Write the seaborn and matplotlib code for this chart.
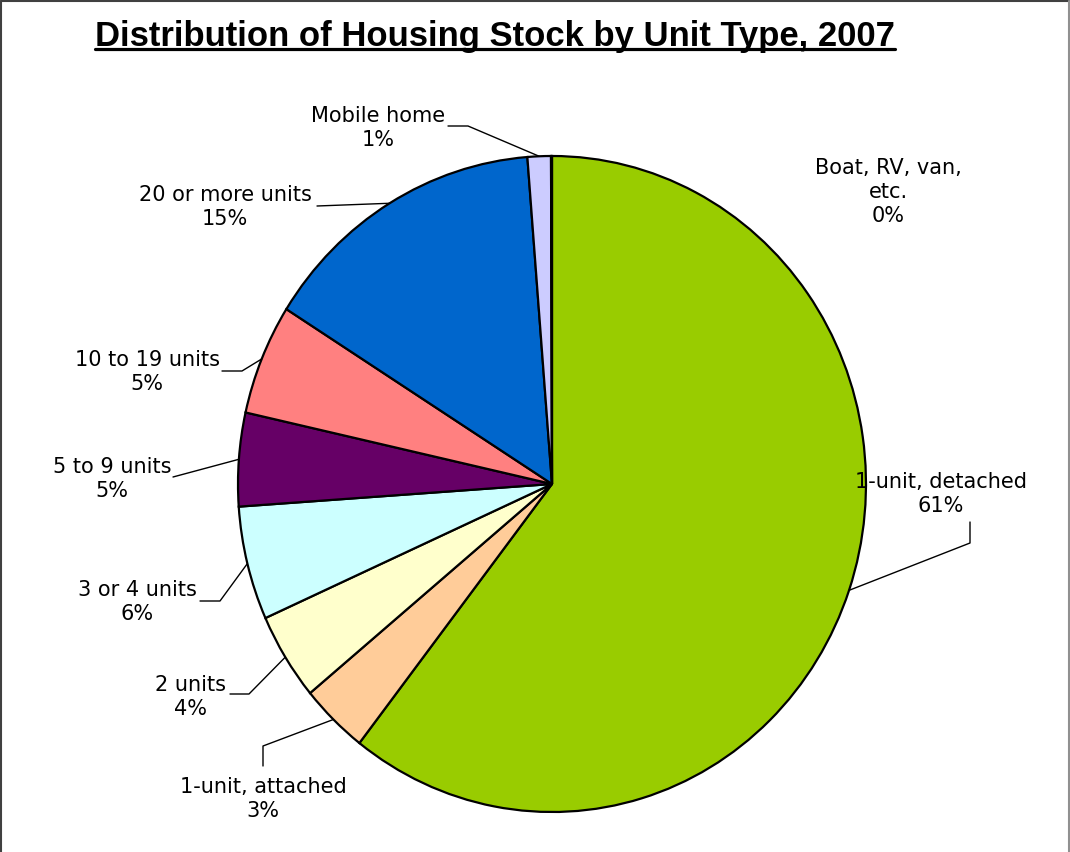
import numpy as np
import matplotlib.pyplot as plt
import seaborn as sns
from matplotlib.lines import Line2D

# data (percent of housing stock)
categories = ["1-unit, detached", "1-unit, attached", "2 units", "3 or 4 units",
              "5 to 9 units", "10 to 19 units", "20 or more units", "Mobile home",
              "Boat, RV, van,\netc."]
shares = [60.51, 3.49, 4.3, 5.6, 4.6, 5.45, 14.8, 1.2, 0.05]
colors = ["#99CC00", "#FFCC99", "#FFFFCC", "#CCFFFF", "#660066", "#FF8080",
          "#0066CC", "#CCCCFF", "#993366"]

sns.set_theme(style="white")
plt.rcParams['font.family'] = ['DejaVu Sans']

W, H = 1070, 853
CX, CY, RX, RY = 552, 485, 314, 328


def px(x, y):
    # pixel position in the picture -> data coords of the pie axes
    return (x - CX) / RX, (CY - y) / RY


fig = plt.figure(figsize=(W / 100, H / 100), dpi=100)
ax = fig.add_axes([0, 0, 1, 1])
wedges, _ = ax.pie(shares, colors=colors, startangle=90, counterclock=False,
                   wedgeprops=dict(edgecolor="black", linewidth=1.6))
ax.set_aspect("auto")
ax.set_xlim(-CX / RX, (W - CX) / RX)
ax.set_ylim(-(H - CY) / RY, CY / RY)
ax.axis("off")

# label layout (pixel positions of the label text and leader elbows)
label_pos = [(941, 494), (263, 799), (190, 697), (137, 602), (112, 479),
             (147, 372), (225, 207), (378, 128), (888, 192)]
leader_pts = [[(970, 523), (970, 544)], [(263, 767), (263, 747)],
              [(230, 695), (249, 695)], [(200, 602), (220, 602)], [(173, 478)],
              [(222, 372), (242, 372)], [(317, 207)], [(448, 127), (468, 127)], []]

total = sum(shares)
for w, name, val, pos, pts in zip(wedges, categories, shares, label_pos, leader_pts):
    tx, ty = px(*pos)
    ax.text(tx, ty, f"{name}\n{val / total * 100:.0f}%", ha="center", va="center",
            fontsize=15, color="black", linespacing=1.25)
    if pts:
        mid = np.deg2rad((w.theta1 + w.theta2) / 2)
        xs = [px(*p)[0] for p in pts] + [np.cos(mid)]
        ys = [px(*p)[1] for p in pts] + [np.sin(mid)]
        ax.plot(xs, ys, color="black", lw=1.0)

# title, fitted to the reference width, with a drawn underline
title = fig.text(95 / W, 1 - 46 / H, "Distribution of Housing Stock by Unit Type, 2007",
                 ha="left", va="baseline", fontsize=24, fontweight="bold",
                 color="black", family=["Liberation Sans", "DejaVu Sans"])
fig.canvas.draw()
bb = title.get_window_extent(fig.canvas.get_renderer())
title.set_fontsize(24 * 803 / bb.width)
fig.canvas.draw()
bb = title.get_window_extent(fig.canvas.get_renderer())
uy = 1 - 50 / H
fig.add_artist(Line2D([bb.x0 / W, bb.x1 / W], [uy, uy], color="black", lw=2.3))

# chart border (top, left, right)
fig.add_artist(Line2D([1.5 / W, 1.5 / W], [0, 1 - 1.5 / H], color="#404040", lw=1.5))
fig.add_artist(Line2D([1.5 / W, 1068.5 / W], [1 - 1.5 / H, 1 - 1.5 / H], color="#404040", lw=1.5))
fig.add_artist(Line2D([1068.5 / W, 1068.5 / W], [0, 1 - 1.5 / H], color="#909090", lw=1.5))

fig.savefig("out.png", dpi=100)
